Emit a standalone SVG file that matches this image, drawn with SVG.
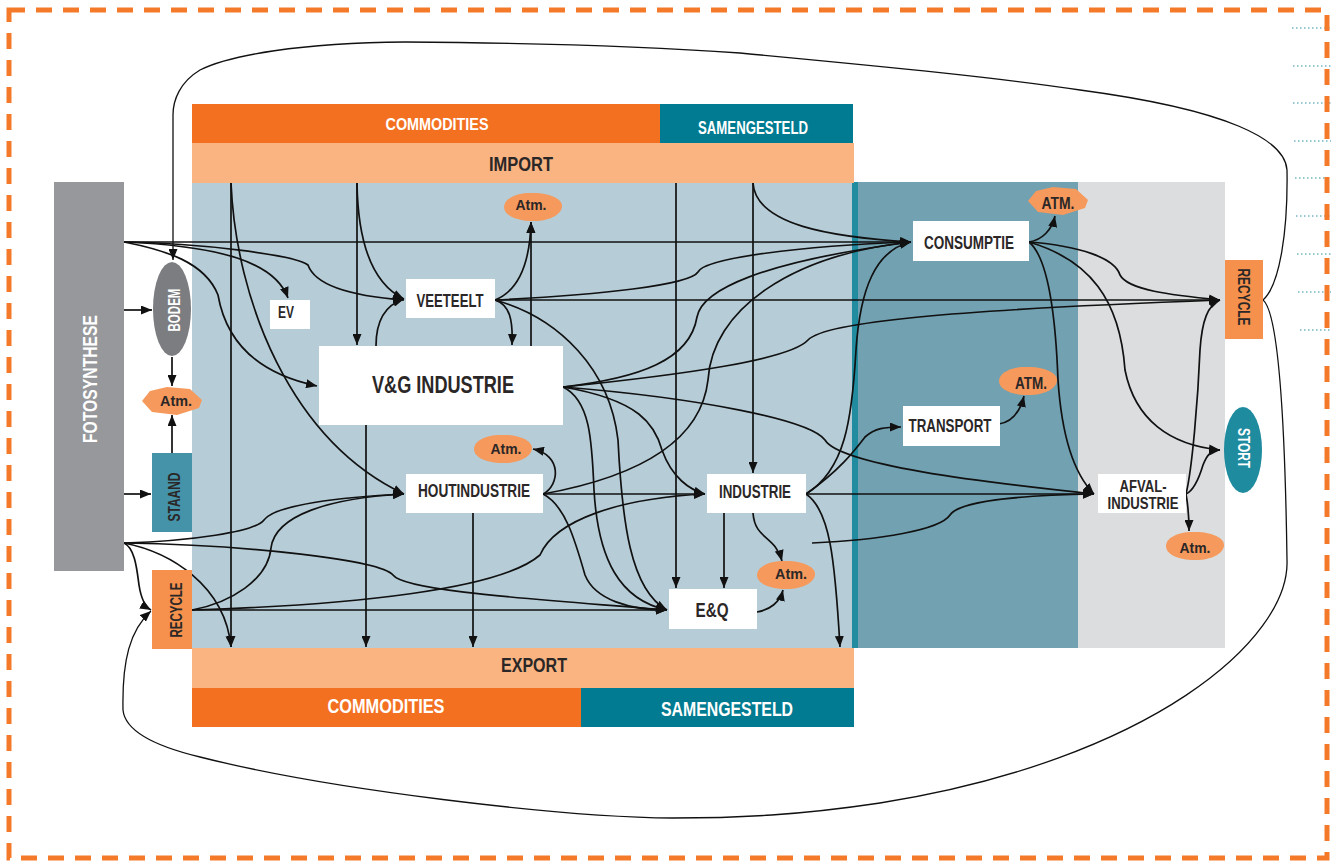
<svg xmlns="http://www.w3.org/2000/svg" width="1331" height="862" viewBox="0 0 1331 862">
<defs>
<style>
.c{fill:none;stroke:#111;stroke-width:1.7;marker-end:url(#ar)}
.loop{fill:none;stroke:#111;stroke-width:1.3}
.box{fill:#fff}
.t{font-family:"Liberation Sans",Arial,sans-serif;font-weight:bold;fill:#2b2727;text-anchor:middle}
.w{fill:#fff}
.atm{fill:#f5995c}
.dot{stroke:#2a90a2;stroke-width:1;stroke-dasharray:1.5 2.5}
</style>
<marker id="ar" viewBox="0 0 10 10" refX="10" refY="5" markerWidth="11" markerHeight="9" markerUnits="userSpaceOnUse" orient="auto" preserveAspectRatio="none"><path d="M0,0 L10,5 L0,10 z" fill="#111"/></marker>
<path id="blob" d="M-29,0 C-29,-8 -18,-13 -6,-14 L4,-14 C18,-13 29,-8 29,-1 C29,7 18,13 4,14 L-4,14 C-18,13 -29,8 -29,0 Z"/>
<path id="hex" d="M-30,0 L-22,-10 L-5,-14 L18,-12 L30,-1 L27,7 L5,14 L-20,11 Z"/>
</defs>
<rect width="1331" height="862" fill="#fff"/>

<g id="backgrounds">
<rect x="192" y="182" width="661" height="466" fill="#b6cdd8"/>
<rect x="852" y="182" width="7" height="466" fill="#218c9f"/>
<rect x="858" y="182" width="220" height="466" fill="#72a1b1"/>
<rect x="1078" y="182" width="147" height="466" fill="#dcdddf"/>
</g>

<g id="dotted">
<line class="dot" x1="1292" y1="28" x2="1331" y2="28"/>
<line class="dot" x1="1293" y1="66" x2="1331" y2="66"/>
<line class="dot" x1="1293" y1="103" x2="1331" y2="103"/>
<line class="dot" x1="1294" y1="141" x2="1331" y2="141"/>
<line class="dot" x1="1295" y1="178" x2="1331" y2="178"/>
<line class="dot" x1="1296" y1="216" x2="1331" y2="216"/>
<line class="dot" x1="1297" y1="254" x2="1331" y2="254"/>
<line class="dot" x1="1298" y1="292" x2="1331" y2="292"/>
<line class="dot" x1="1300" y1="330" x2="1331" y2="330"/>
</g>

<rect x="9" y="10" width="1318" height="848" fill="none" stroke="#f47a2a" stroke-width="5" stroke-dasharray="16 11"/>

<g id="import-bars">
<rect x="192" y="104" width="468" height="39" fill="#f37021"/>
<rect x="660" y="104" width="193" height="39" fill="#007b91"/>
<rect x="192" y="143" width="662" height="40" fill="#f9b482"/>
<text class="t w" x="437" y="130" font-size="17" textLength="103" lengthAdjust="spacingAndGlyphs">COMMODITIES</text>
<text class="t w" x="753" y="134" font-size="18" textLength="110" lengthAdjust="spacingAndGlyphs">SAMENGESTELD</text>
<text class="t" x="521" y="171" font-size="21" textLength="64" lengthAdjust="spacingAndGlyphs">IMPORT</text>
</g>

<g id="export-bars">
<rect x="192" y="648" width="662" height="40" fill="#f9b482"/>
<rect x="192" y="688" width="389" height="39" fill="#f37021"/>
<rect x="581" y="688" width="273" height="39" fill="#007b91"/>
<text class="t" x="534" y="672" font-size="21" textLength="66" lengthAdjust="spacingAndGlyphs">EXPORT</text>
<text class="t w" x="386" y="713" font-size="21" textLength="117" lengthAdjust="spacingAndGlyphs">COMMODITIES</text>
<text class="t w" x="727" y="716" font-size="21" textLength="132" lengthAdjust="spacingAndGlyphs">SAMENGESTELD</text>
</g>

<g id="connectors">
<path class="loop" marker-end="url(#ar)" d="M1263,300 C1280,285 1288,230 1287,170 C1285,140 1230,110 1080,90 C1000,78 900,68 740,53 C640,46 540,43 405,42 C300,43 230,55 200,70 C180,82 173,100 173,115 L173,260"/>
<path class="loop" marker-end="url(#ar)" d="M1263,300 C1278,312 1285,420 1287,560 C1290,640 1150,760 880,803 C800,815 740,818 673,818 C560,817 330,790 200,757 C150,745 125,730 123,710 C122,660 130,630 151,611"/>
<path class="c" d="M124,242 L911,242"/>
<path class="c" d="M124,242 C220,246 275,262 288,298"/>
<path class="c" d="M124,242 C200,243 295,255 308,265 C315,285 350,296 404,300"/>
<path class="c" d="M124,242 C165,250 205,262 218,295 C225,335 250,372 317,386"/>
<path class="c" d="M124,310 L152,310"/>
<path class="c" d="M124,494 L151,494"/>
<path class="c" d="M172,357 L172,386"/>
<path class="c" d="M172,453 L172,415"/>
<path class="c" d="M124,543 C190,541 255,532 264,520 C275,505 340,497 404,494"/>
<path class="c" d="M124,543 C250,545 380,560 393,575 C405,592 550,600 667,610"/>
<path class="c" d="M124,543 C135,548 137,570 139,585 C141,598 144,606 151,610"/>
<path class="c" d="M124,543 C170,552 225,585 231,647"/>
<path class="c" d="M192,610 L667,610"/>
<path class="c" d="M192,610 C230,603 268,580 271,548 C275,515 330,498 404,494"/>
<path class="c" d="M192,610 C350,605 500,590 540,555 C555,520 620,498 705,494"/>
<path class="c" d="M231,183 L231,647"/>
<path class="c" d="M231,183 C236,300 290,440 404,494"/>
<path class="c" d="M357,183 L357,345"/>
<path class="c" d="M357,183 C358,250 375,285 404,299"/>
<path class="c" d="M676,183 L676,588"/>
<path class="c" d="M753,183 L753,473"/>
<path class="c" d="M753,183 C756,225 830,237 911,242"/>
<path class="c" d="M366,425 L366,647"/>
<path class="c" d="M376,346 C376,320 385,305 404,299"/>
<path class="c" d="M531,346 L531,222"/>
<path class="c" d="M563,387 C640,378 690,360 697,317 C702,290 760,262 911,242"/>
<path class="c" d="M563,387 C680,375 790,360 808,340 C825,322 950,310 1220,300"/>
<path class="c" d="M563,387 C700,398 810,420 825,440 C840,465 980,482 1094,494"/>
<path class="c" d="M563,387 C640,400 655,425 662,450 C672,478 690,490 705,494"/>
<path class="c" d="M563,387 C590,400 592,440 594,490 C598,560 620,600 667,610"/>
<path class="c" d="M495,300 L1220,300"/>
<path class="c" d="M495,300 C520,290 530,260 531,222"/>
<path class="c" d="M495,300 C510,305 513,320 512,345"/>
<path class="c" d="M495,300 C600,295 690,285 698,272 C705,258 800,246 911,242"/>
<path class="c" d="M495,300 C560,318 610,370 618,440 C622,520 630,590 667,610"/>
<path class="c" d="M543,494 L705,494"/>
<path class="c" d="M543,494 C560,485 562,455 533,449"/>
<path class="c" d="M543,494 C620,480 700,450 708,380 C712,310 790,255 911,242"/>
<path class="c" d="M543,494 C565,505 575,540 585,575 C595,600 630,610 667,610"/>
<path class="c" d="M473,513 L473,647"/>
<path class="c" d="M806,494 L1094,494"/>
<path class="c" d="M806,494 C845,470 852,420 856,350 C860,290 875,250 911,242"/>
<path class="c" d="M806,494 C840,470 855,450 865,437 C875,428 885,427 901,427"/>
<path class="c" d="M806,494 C830,510 835,560 840,647"/>
<path class="c" d="M724,513 L724,588"/>
<path class="c" d="M753,513 C755,540 775,535 782,561"/>
<path class="c" d="M757,612 C770,610 780,602 783,590"/>
<path class="c" d="M999,424 C1012,422 1020,412 1024,396"/>
<path class="c" d="M1029,242 C1042,240 1052,230 1055,216"/>
<path class="c" d="M1029,242 C1080,246 1115,258 1120,275 C1128,290 1170,295 1220,300"/>
<path class="c" d="M1029,242 C1090,260 1120,300 1125,370 C1135,420 1170,445 1220,450"/>
<path class="c" d="M1029,242 C1045,255 1055,300 1058,380 C1062,440 1075,475 1094,494"/>
<path class="c" d="M812,543 C880,540 940,530 950,515 C960,500 1030,495 1094,494"/>
<path class="c" d="M1186,494 C1192,470 1198,400 1200,350 C1202,320 1208,305 1220,300"/>
<path class="c" d="M1186,494 C1195,490 1200,475 1203,465 C1207,455 1210,451 1220,450"/>
<path class="c" d="M1186,494 C1188,505 1189,515 1189,531"/>
</g>

<g id="fotosynthese">
<rect x="54" y="182" width="70" height="389" fill="#97989b"/>
<text class="t w" transform="translate(97,379) rotate(-90)" font-size="21" textLength="128" lengthAdjust="spacingAndGlyphs">FOTOSYNTHESE</text>
</g>
<g id="bodem">
<ellipse cx="172" cy="309" rx="19" ry="47" fill="#7c7d81"/>
<text class="t w" transform="translate(180,310) rotate(-90)" font-size="16" textLength="43" lengthAdjust="spacingAndGlyphs">BODEM</text>
</g>
<g id="atm-left">
<use href="#hex" class="atm" x="172" y="401"/>
<text class="t" x="176" y="406" font-size="15" textLength="32" lengthAdjust="spacingAndGlyphs">Atm.</text>
</g>
<g id="staand">
<rect x="152" y="453" width="40" height="79" fill="#4593a8"/>
<text class="t" transform="translate(180,497) rotate(-90)" font-size="17" textLength="49" lengthAdjust="spacingAndGlyphs">STAAND</text>
</g>
<g id="recycle-left">
<rect x="152" y="570" width="40" height="79" fill="#f5914d"/>
<text class="t" transform="translate(182,610) rotate(-90)" font-size="17" textLength="55" lengthAdjust="spacingAndGlyphs">RECYCLE</text>
</g>
<g id="ev">
<rect class="box" x="270" y="300" width="40" height="29"/>
<text class="t" x="286" y="318" font-size="16" textLength="16" lengthAdjust="spacingAndGlyphs">EV</text>
</g>
<g id="veeteelt">
<rect class="box" x="406" y="279" width="89" height="39"/>
<text class="t" x="450" y="307" font-size="17.5" textLength="67" lengthAdjust="spacingAndGlyphs">VEETEELT</text>
</g>
<g id="vg-industrie">
<rect class="box" x="319" y="346" width="244" height="79"/>
<text class="t" x="443" y="393" font-size="23" textLength="142" lengthAdjust="spacingAndGlyphs">V&amp;G INDUSTRIE</text>
</g>
<g id="atm-vg">
<use href="#blob" class="atm" x="533" y="207"/>
<text class="t" x="531" y="210" font-size="15" textLength="31" lengthAdjust="spacingAndGlyphs">Atm.</text>
</g>
<g id="houtindustrie">
<rect class="box" x="406" y="474" width="137" height="39"/>
<text class="t" x="474" y="497" font-size="18" textLength="112" lengthAdjust="spacingAndGlyphs">HOUTINDUSTRIE</text>
</g>
<g id="atm-hout">
<use href="#blob" class="atm" x="503" y="449"/>
<text class="t" x="506" y="454" font-size="15" textLength="31" lengthAdjust="spacingAndGlyphs">Atm.</text>
</g>
<g id="industrie">
<rect class="box" x="707" y="474" width="99" height="39"/>
<text class="t" x="755" y="498" font-size="17.5" textLength="72" lengthAdjust="spacingAndGlyphs">INDUSTRIE</text>
</g>
<g id="atm-industrie">
<use href="#blob" class="atm" x="786" y="575"/>
<text class="t" x="791" y="579" font-size="15" textLength="32" lengthAdjust="spacingAndGlyphs">Atm.</text>
</g>
<g id="eq">
<rect class="box" x="669" y="589" width="88" height="40"/>
<text class="t" x="712" y="617" font-size="21" textLength="33" lengthAdjust="spacingAndGlyphs">E&amp;Q</text>
</g>
<g id="consumptie">
<rect class="box" x="913" y="221" width="116" height="40"/>
<text class="t" x="969" y="249" font-size="18" textLength="90" lengthAdjust="spacingAndGlyphs">CONSUMPTIE</text>
</g>
<g id="atm-consumptie">
<use href="#hex" class="atm" x="1058" y="201"/>
<text class="t" x="1058" y="209" font-size="16" textLength="33" lengthAdjust="spacingAndGlyphs">ATM.</text>
</g>
<g id="transport">
<rect class="box" x="903" y="406" width="97" height="40"/>
<text class="t" x="950" y="432" font-size="18" textLength="83" lengthAdjust="spacingAndGlyphs">TRANSPORT</text>
</g>
<g id="atm-transport">
<use href="#blob" class="atm" x="1028" y="381"/>
<text class="t" x="1031" y="389" font-size="16" textLength="32" lengthAdjust="spacingAndGlyphs">ATM.</text>
</g>
<g id="afval-industrie">
<rect class="box" x="1098" y="474" width="88" height="39"/>
<text class="t" x="1143" y="492" font-size="17" textLength="47" lengthAdjust="spacingAndGlyphs">AFVAL-</text>
<text class="t" x="1143" y="509" font-size="17" textLength="71" lengthAdjust="spacingAndGlyphs">INDUSTRIE</text>
</g>
<g id="atm-afval">
<use href="#blob" class="atm" x="1195" y="546"/>
<text class="t" x="1195" y="553" font-size="15" textLength="31" lengthAdjust="spacingAndGlyphs">Atm.</text>
</g>
<g id="recycle-right">
<rect x="1225" y="260" width="38" height="79" fill="#f5914d"/>
<text class="t" transform="translate(1238,297) rotate(90)" font-size="17" textLength="57" lengthAdjust="spacingAndGlyphs">RECYCLE</text>
</g>
<g id="stort">
<ellipse cx="1243" cy="450" rx="19" ry="43" fill="#1f8b9f"/>
<text class="t w" transform="translate(1238,448) rotate(90)" font-size="17" textLength="40" lengthAdjust="spacingAndGlyphs">STORT</text>
</g>
</svg>
